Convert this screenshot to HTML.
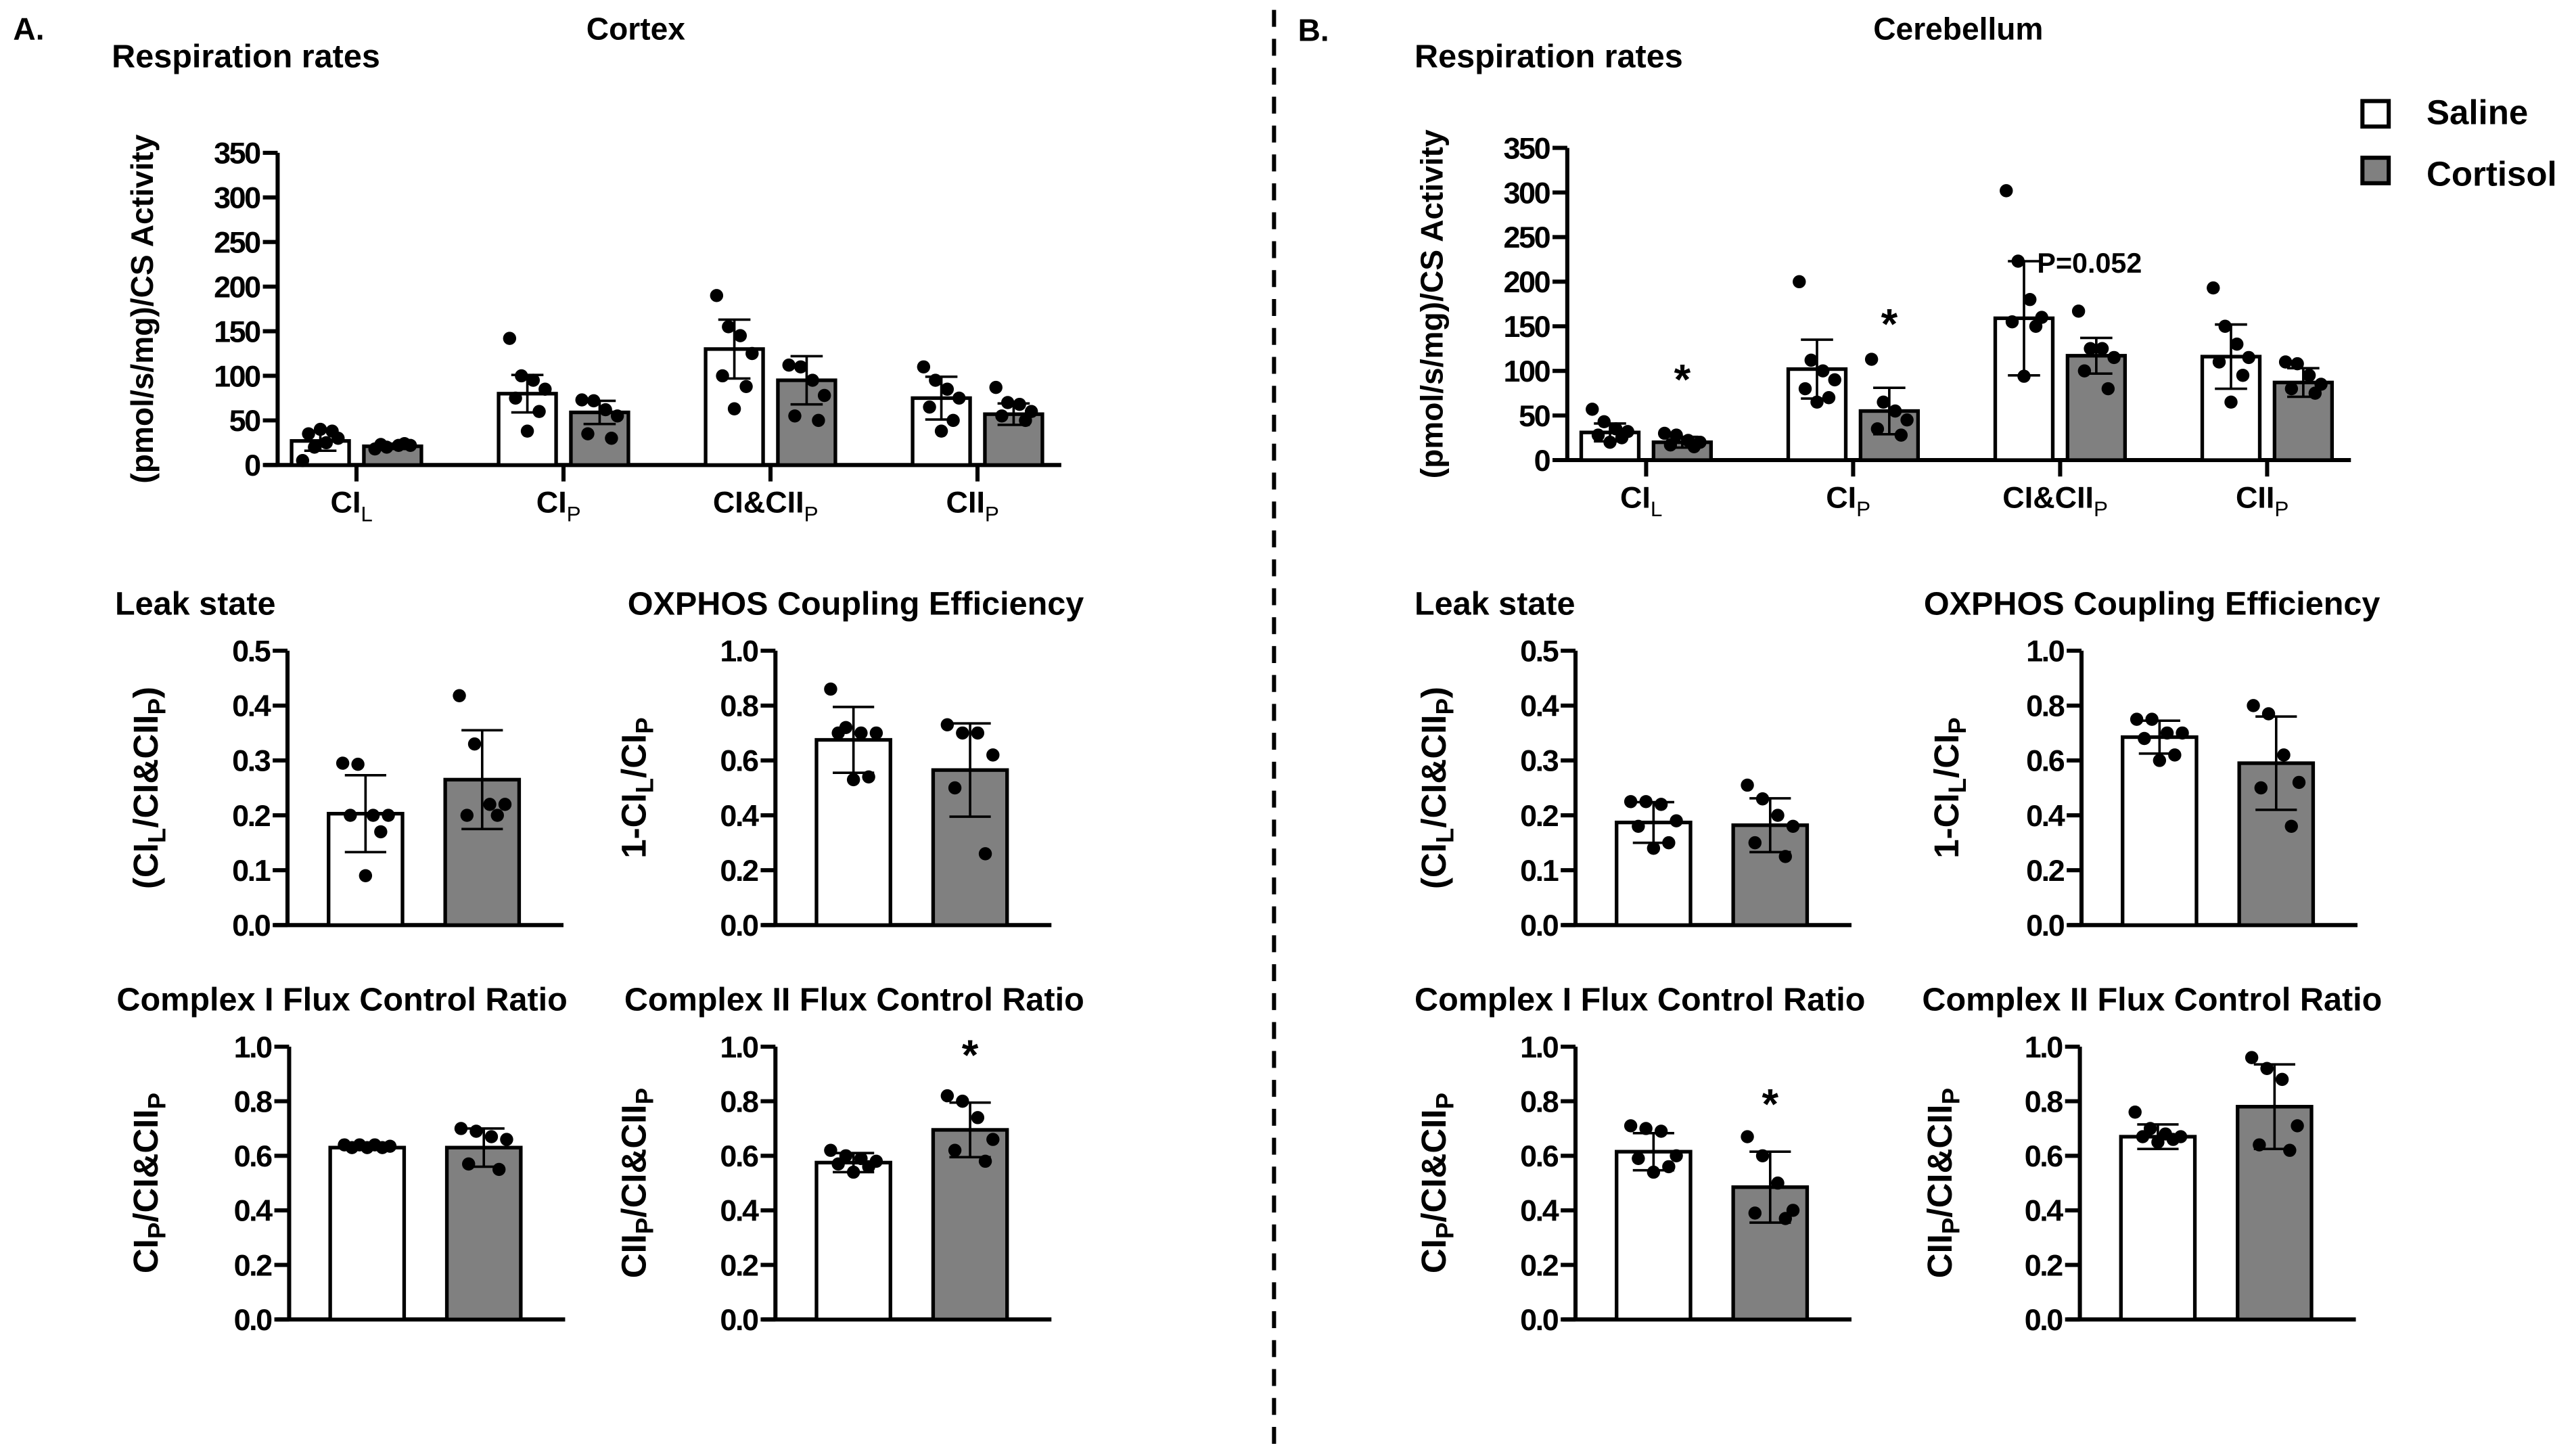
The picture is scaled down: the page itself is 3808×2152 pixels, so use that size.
<!DOCTYPE html>
<html><head><meta charset="utf-8"><title>Cortex vs Cerebellum respiration</title>
<style>html,body{margin:0;padding:0;background:#fff}svg{display:block}
text{font-family:"Liberation Sans",Arial,sans-serif;font-weight:bold;fill:#000}</style></head>
<body>
<svg id="fig" xmlns="http://www.w3.org/2000/svg" width="3808" height="2152" viewBox="0 0 1568 886.1">
<rect x="0" y="0" width="1568" height="886.1" fill="#fff"/>
<line x1="775.5" y1="6" x2="775.5" y2="886" stroke="#000" stroke-width="2.5" stroke-dasharray="10.3 7.3"/>
<text x="8" y="24" font-size="19">A.</text>
<text x="387" y="24" font-size="19" text-anchor="middle">Cortex</text>
<text x="790" y="25" font-size="19">B.</text>
<text x="1192" y="24" font-size="19" text-anchor="middle">Cerebellum</text>
<g>
<rect x="1438" y="61.5" width="16" height="15.5" fill="#fff" stroke="#000" stroke-width="2.5"/>
<text x="1477" y="75.5" font-size="21">Saline</text>
<rect x="1438" y="96" width="16" height="15.5" fill="#808080" stroke="#000" stroke-width="2.5"/>
<text x="1477" y="113" font-size="21">Cortisol</text>
</g>
<g id="plots"></g>
</svg>
<script>
// ---- data: Cortex respiration ----
const respCategories = ["CI|L","CI|P","CI&CII|P","CII|P"];
const ctxRespSalMean = [27, 80, 130, 75];
const ctxRespSalSD = [11, 21, 33, 24];
const ctxRespCorMean = [21, 59, 95, 57];
const ctxRespCorSD = [3, 13, 27, 12];
const ctxRespSalPts = [[5,20,25,30,35,38,40],[142,100,95,85,75,60,38],[190,155,145,125,100,88,63],[110,95,85,75,65,50,38]];
const ctxRespCorPts = [[18,20,22,22,23,24],[73,72,62,55,35,30],[112,110,95,78,55,50],[87,70,68,60,55,50]];
// ---- data: Cerebellum respiration ----
const cbRespSalMean = [31, 102, 159, 116];
const cbRespSalSD = [10, 33, 64, 36];
const cbRespCorMean = [20, 55, 117, 87];
const cbRespCorSD = [6, 26, 20, 16];
const cbRespSalPts = [[57,43,35,32,28,25,20],[200,112,100,90,80,70,65],[302,223,180,160,155,150,94],[193,150,130,115,110,95,65]];
const cbRespCorPts = [[30,28,22,20,17,15],[113,65,55,45,35,28],[167,125,125,115,100,80],[110,108,95,85,80,75]];
const cbRespSig = ["*","*","P=0.052",""];
const respTicks = [0,50,100,150,200,250,300,350];
// ---- data: small panels ----
const ratioTicksLeak = ["0.0","0.1","0.2","0.3","0.4","0.5"];
const ratioTicks1 = ["0.0","0.2","0.4","0.6","0.8","1.0"];
const ctxLeakMean = [0.203, 0.265];
const ctxLeakSD = [0.07, 0.09];
const ctxLeakSalPts = [0.295,0.293,0.2,0.2,0.2,0.17,0.09];
const ctxLeakCorPts = [0.418,0.33,0.22,0.22,0.2,0.2];
const ctxOxMean = [0.675, 0.565];
const ctxOxSD = [0.12, 0.17];
const ctxOxSalPts = [0.86,0.72,0.7,0.7,0.7,0.54,0.53];
const ctxOxCorPts = [0.73,0.7,0.7,0.62,0.5,0.26];
const ctxCI_Mean = [0.63, 0.63];
const ctxCI_SD = [0.006, 0.07];
const ctxCI_SalPts = [0.64,0.64,0.64,0.635,0.63,0.63,0.63];
const ctxCI_CorPts = [0.70,0.69,0.67,0.66,0.57,0.55];
const ctxCII_Mean = [0.575, 0.695];
const ctxCII_SD = [0.035, 0.1];
const ctxCII_SalPts = [0.62,0.6,0.59,0.58,0.57,0.56,0.54];
const ctxCII_CorPts = [0.82,0.80,0.74,0.66,0.62,0.58];
const cbLeakMean = [0.187, 0.182];
const cbLeakSD = [0.037, 0.049];
const cbLeakSalPts = [0.225,0.225,0.22,0.19,0.18,0.15,0.14];
const cbLeakCorPts = [0.255,0.23,0.2,0.18,0.15,0.125];
const cbOxMean = [0.685, 0.59];
const cbOxSD = [0.06, 0.17];
const cbOxSalPts = [0.75,0.75,0.7,0.7,0.68,0.62,0.6];
const cbOxCorPts = [0.8,0.77,0.62,0.52,0.5,0.36];
const cbCI_Mean = [0.615, 0.485];
const cbCI_SD = [0.068, 0.13];
const cbCI_SalPts = [0.71,0.70,0.69,0.6,0.59,0.56,0.54];
const cbCI_CorPts = [0.67,0.6,0.5,0.4,0.39,0.37];
const cbCII_Mean = [0.67, 0.78];
const cbCII_SD = [0.045, 0.155];
const cbCII_SalPts = [0.76,0.7,0.68,0.67,0.67,0.66,0.65];
const cbCII_CorPts = [0.96,0.92,0.88,0.71,0.64,0.62];

const NS = "http://www.w3.org/2000/svg";
const root = document.getElementById("plots");
const JIT = [-12,-4,4,12,-8,8,0];
function mk(tag, attrs, parent){ const e=document.createElementNS(NS,tag); for(const k in attrs) e.setAttribute(k,attrs[k]); (parent||root).appendChild(e); return e; }
function subText(parent, x, y, label, size, anchor){
  const t = mk("text",{x:x,y:y,"font-size":size,"text-anchor":anchor||"middle"},parent);
  const parts = label.split("|");
  t.appendChild(document.createTextNode(parts[0]));
  if(parts[1]){ const s=mk("tspan",{"font-size":size*0.7,dy:size*0.28,"font-weight":"normal"},t); s.textContent=parts[1]; }
  return t;
}
function yLabel(parent, cx, cy, parts, size){
  const t = mk("text",{x:0,y:0,"font-size":size,"text-anchor":"middle",transform:`translate(${cx},${cy}) rotate(-90)`},parent);
  let prevSub=false;
  parts.forEach(p=>{
    const s=mk("tspan",{},t); s.textContent=p[0];
    if(p[1]){ s.setAttribute("font-size",size*0.72); s.setAttribute("dy",size*0.22); }
    else if(prevSub){ s.setAttribute("dy",-size*0.22); }
    prevSub=p[1];
  });
  return t;
}
function barGroup(g, cx, w, yf, mean, sd, pts, fill, name){
  const top = yf(mean), base = yf(0);
  const b = mk("rect",{x:cx-w/2,y:top,width:w,height:base-top,fill:fill,stroke:"#000","stroke-width":2.2},g);
  
  
  const hi=yf(mean+sd), lo=yf(Math.max(0,mean-sd)), cw=w*0.28;
  const e = mk("path",{d:`M${cx},${hi}V${lo}M${cx-cw},${hi}H${cx+cw}M${cx-cw},${lo}H${cx+cw}`,stroke:"#000","stroke-width":1.5,fill:"none"},g);
  
  
  pts.forEach((v,i)=>{
    const c = mk("circle",{cx:cx+JIT[i%JIT.length]*w/35*0.9,cy:yf(v),r:4,fill:"#000"},g);
    
    
  });
}
function respPanel(o){
  const g = mk("g",{});  
  const yf = v => o.y0 - v/350*(o.y0-o.yTop);
  const cat = i => o.ax + 48 + i*126;
  mk("text",{x:o.tx,y:41,"font-size":20},g).textContent="Respiration rates";
  mk("path",{d:`M${o.ax},${o.yTop}V${o.y0}M${o.ax-8},${o.y0}H${o.ax+477}`,stroke:"#000","stroke-width":2.5,fill:"none"},g);
  respTicks.forEach(t=>{ mk("line",{x1:o.ax-9,x2:o.ax,y1:yf(t),y2:yf(t),stroke:"#000","stroke-width":2.5},g);
    const l=mk("text",{x:o.ax-11,y:yf(t)+6.5,"font-size":18.5,"text-anchor":"end","letter-spacing":"-1"},g); l.textContent=t;
      });
  const yl = yLabel(g, o.lx, (o.yTop+o.y0)/2, [["(pmol/s/mg)/CS Activity",false]], 19);
   
  respCategories.forEach((c,i)=>{
    const x=cat(i);
    mk("line",{x1:x,x2:x,y1:o.y0,y2:o.y0+10,stroke:"#000","stroke-width":2.5},g);
    const l=subText(g,x-3,o.y0+29,c,18.5);  
    barGroup(g,x-22,35,yf,o.sm[i],o.ss[i],o.sp[i],"#fff","saline-"+i);
    barGroup(g,x+22,35,yf,o.cm[i],o.cs[i],o.cp[i],"#808080","cortisol-"+i);
    if(o.sig && o.sig[i]){
      if(o.sig[i]==="*"){ const s=mk("text",{x:x+22,y:yf(o.cm[i]+o.cs[i])-(i===0?26:30),"font-size":26,"text-anchor":"middle"},g); s.textContent="*";   }
      else { const s=mk("text",{x:x-14,y:yf(o.sm[i]+o.ss[i])+7,"font-size":17},g); s.textContent=o.sig[i];   }
    }
  });
}
function smallPanel(o){
  const g = mk("g",{});  
  const yf = v => o.y0 - v/o.max*(o.y0-o.yTop);
  const tt=mk("text",{x:o.tx,y:o.ty,"font-size":20},g); tt.textContent=o.title;
   
  mk("path",{d:`M${o.ax},${o.yTop}V${o.y0}M${o.ax-8},${o.y0}H${o.ax+168}`,stroke:"#000","stroke-width":2.5,fill:"none"},g);
  o.ticks.forEach(t=>{ const v=parseFloat(t);
    mk("line",{x1:o.ax-9,x2:o.ax,y1:yf(v),y2:yf(v),stroke:"#000","stroke-width":2.5},g);
    const l=mk("text",{x:o.ax-11,y:yf(v)+6.5,"font-size":18.5,"text-anchor":"end","letter-spacing":"-1"},g); l.textContent=t;
      });
  const yl=yLabel(g,o.lx,(o.yTop+o.y0)/2,o.ylab,21);
   
  barGroup(g,o.ax+47.5,45,yf,o.mean[0],o.sd[0],o.sp,"#fff","saline");
  barGroup(g,o.ax+118.5,45,yf,o.mean[1],o.sd[1],o.cp,"#808080","cortisol");
  if(o.star){ const s=mk("text",{x:o.ax+118.5,y:yf(o.mean[1]+o.sd[1])-20,"font-size":26,"text-anchor":"middle"},g); s.textContent="*";   }
}
respPanel({name:"cortex-respiration-chart",ax:169,y0:283,yTop:93,tx:68,lx:93,sm:ctxRespSalMean,ss:ctxRespSalSD,cm:ctxRespCorMean,cs:ctxRespCorSD,sp:ctxRespSalPts,cp:ctxRespCorPts});
respPanel({name:"cerebellum-respiration-chart",ax:954,y0:280,yTop:90,tx:861,lx:878,sm:cbRespSalMean,ss:cbRespSalSD,cm:cbRespCorMean,cs:cbRespCorSD,sp:cbRespSalPts,cp:cbRespCorPts,sig:cbRespSig});
const labLeak=[["(CI",false],["L",true],["/CI&CII",false],["P",true],[")",false]];
const labOx=[["1-CI",false],["L",true],["/CI",false],["P",true]];
const labCI=[["CI",false],["P",true],["/CI&CII",false],["P",true]];
const labCII=[["CII",false],["P",true],["/CI&CII",false],["P",true]];
const rows=[{y0:563,yTop:396,ty:374},{y0:803,yTop:637,ty:615}];
smallPanel({name:"cortex-leak-chart",ax:175,...rows[0],tx:70,lx:96,max:0.5,ticks:ratioTicksLeak,title:"Leak state",ylab:labLeak,mean:ctxLeakMean,sd:ctxLeakSD,sp:ctxLeakSalPts,cp:ctxLeakCorPts});
smallPanel({name:"cortex-oxphos-chart",ax:472,...rows[0],tx:382,lx:393,max:1,ticks:ratioTicks1,title:"OXPHOS Coupling Efficiency",ylab:labOx,mean:ctxOxMean,sd:ctxOxSD,sp:ctxOxSalPts,cp:ctxOxCorPts});
smallPanel({name:"cortex-ci-fcr-chart",ax:176,...rows[1],tx:71,lx:96,max:1,ticks:ratioTicks1,title:"Complex I Flux Control Ratio",ylab:labCI,mean:ctxCI_Mean,sd:ctxCI_SD,sp:ctxCI_SalPts,cp:ctxCI_CorPts});
smallPanel({name:"cortex-cii-fcr-chart",ax:472,...rows[1],tx:380,lx:393,max:1,ticks:ratioTicks1,title:"Complex II Flux Control Ratio",ylab:labCII,mean:ctxCII_Mean,sd:ctxCII_SD,sp:ctxCII_SalPts,cp:ctxCII_CorPts,star:true});
smallPanel({name:"cerebellum-leak-chart",ax:959,...rows[0],tx:861,lx:880,max:0.5,ticks:ratioTicksLeak,title:"Leak state",ylab:labLeak,mean:cbLeakMean,sd:cbLeakSD,sp:cbLeakSalPts,cp:cbLeakCorPts});
smallPanel({name:"cerebellum-oxphos-chart",ax:1267,...rows[0],tx:1171,lx:1192,max:1,ticks:ratioTicks1,title:"OXPHOS Coupling Efficiency",ylab:labOx,mean:cbOxMean,sd:cbOxSD,sp:cbOxSalPts,cp:cbOxCorPts});
smallPanel({name:"cerebellum-ci-fcr-chart",ax:959,...rows[1],tx:861,lx:880,max:1,ticks:ratioTicks1,title:"Complex I Flux Control Ratio",ylab:labCI,mean:cbCI_Mean,sd:cbCI_SD,sp:cbCI_SalPts,cp:cbCI_CorPts,star:true});
smallPanel({name:"cerebellum-cii-fcr-chart",ax:1266,...rows[1],tx:1170,lx:1188,max:1,ticks:ratioTicks1,title:"Complex II Flux Control Ratio",ylab:labCII,mean:cbCII_Mean,sd:cbCII_SD,sp:cbCII_SalPts,cp:cbCII_CorPts});
</script>
</body></html>
